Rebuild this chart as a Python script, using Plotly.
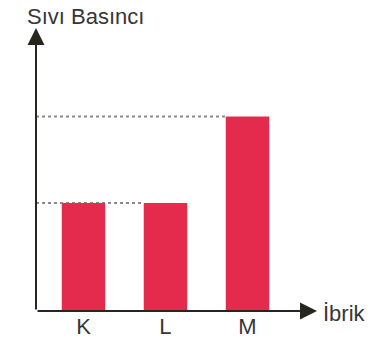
import plotly.graph_objects as go

categories = ["K", "L", "M"]
values = [5, 5, 9]
y_title = "Sıvı Basıncı"
x_title = "İbrik"

BAR_W = 0.53
X_RANGE = [-0.579, 2.848]
Y_RANGE = [0, 13.1]

W, H = 375, 342
# plot area in page pixels: x 36..317, y 28..311
ML, MT = 36, 28
MR, MB = W - 317, H - 311
PLOT_H = H - MT - MB
PLOT_W = W - ML - MR
AXIS_COLOR = "#26261f"
TEXT_COLOR = "#363636"
FONT = "Liberation Sans, Arial, sans-serif"


def px_x(page_x):
    return (page_x - ML) / PLOT_W


def px_y(page_y):
    return (H - MB - page_y) / PLOT_H


xs = list(range(len(categories)))

fig = go.Figure(
    go.Bar(
        x=xs,
        y=values,
        width=BAR_W,
        marker=dict(color="#e42a4d", line=dict(width=0)),
        hoverinfo="skip",
    )
)

shapes = []
for v in sorted(set(values)):
    last = max(i for i, val in enumerate(values) if val == v)
    shapes.append(
        dict(
            type="line", xref="x", yref="y",
            x0=X_RANGE[0], x1=last - BAR_W / 2, y0=v, y1=v,
            line=dict(color="#8a8a8a", width=2, dash="dot"),
            layer="below",
        )
    )

annotations = [
    # y axis arrow
    dict(
        xref="paper", yref="paper", x=0, y=1, ax=0, ay=PLOT_H,
        axref="pixel", ayref="pixel", text="", showarrow=True,
        arrowhead=2, arrowsize=1.7, arrowwidth=2, arrowcolor=AXIS_COLOR,
        standoff=0, startstandoff=0,
    ),
    # x axis arrow
    dict(
        xref="paper", yref="paper", x=1, y=0, ax=-PLOT_W, ay=0,
        axref="pixel", ayref="pixel", text="", showarrow=True,
        arrowhead=2, arrowsize=1.7, arrowwidth=2, arrowcolor=AXIS_COLOR,
        standoff=0, startstandoff=0,
    ),
    dict(
        xref="paper", yref="paper", x=px_x(25), y=px_y(16.5),
        xanchor="left", yanchor="middle", text=y_title, showarrow=False,
        font=dict(family=FONT, size=22, color=TEXT_COLOR),
    ),
    dict(
        xref="paper", yref="paper", x=px_x(321), y=px_y(313),
        xanchor="left", yanchor="middle", text=x_title, showarrow=False,
        font=dict(family=FONT, size=22, color=TEXT_COLOR),
    ),
]

fig.update_layout(
    width=W, height=H,
    margin=dict(l=ML, r=MR, t=MT, b=MB, pad=0, autoexpand=False),
    paper_bgcolor="white", plot_bgcolor="white",
    showlegend=False,
    shapes=shapes,
    annotations=annotations,
    xaxis=dict(
        range=X_RANGE, tickvals=xs, ticktext=categories,
        showgrid=False, zeroline=False, showline=False, ticks="",
        tickfont=dict(family=FONT, size=22, color=TEXT_COLOR),
        fixedrange=True, automargin=False,
    ),
    yaxis=dict(
        range=Y_RANGE, showticklabels=False, showgrid=False,
        zeroline=False, showline=False, ticks="", fixedrange=True,
        automargin=False,
    ),
)

fig.write_html(
    "out.html",
    config={"displayModeBar": False},
    post_script="document.body.style.margin='0';document.body.style.overflow='hidden';",
)
